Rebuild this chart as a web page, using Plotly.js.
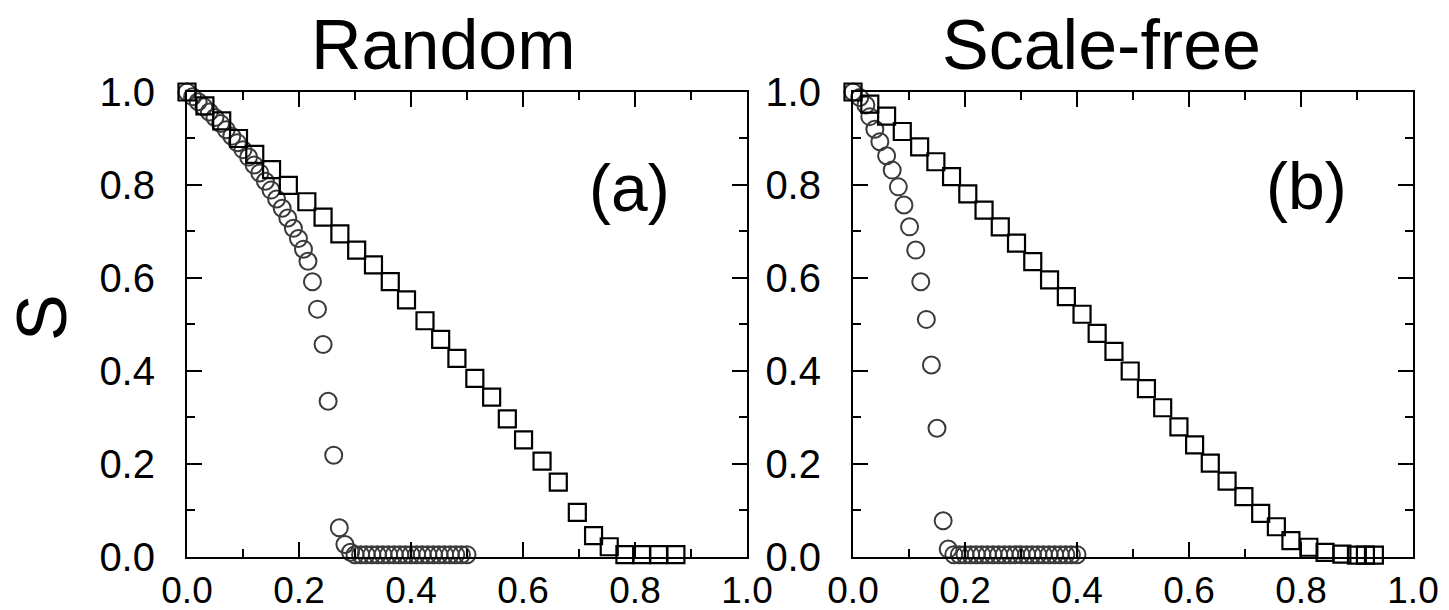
<!DOCTYPE html>
<html>
<head>
<meta charset="utf-8">
<script src="https://cdn.plot.ly/plotly-3.0.1.min.js"></script>
<style>html,body{margin:0;padding:0;background:#fff;}#chart{width:1449px;height:610px;}</style>
</head>
<body>
<div id="chart"></div>
<script>
// Panel (a) Random network
const randomSquareX = [0.000,0.032,0.062,0.092,0.121,0.151,0.181,0.214,0.243,0.273,0.303,0.333,0.363,0.392,0.425,0.453,0.482,0.514,0.544,0.572,0.601,0.634,0.663,0.697,0.726,0.754,0.782,0.812,0.842,0.873];
const randomSquareY = [1.000,0.970,0.938,0.900,0.866,0.833,0.799,0.764,0.731,0.695,0.660,0.628,0.592,0.553,0.508,0.468,0.427,0.384,0.344,0.297,0.252,0.206,0.161,0.096,0.046,0.022,0.005,0.005,0.005,0.005];
const randomCircleX = [0.000,0.010,0.020,0.030,0.040,0.050,0.060,0.070,0.080,0.090,0.100,0.110,0.120,0.130,0.140,0.150,0.160,0.170,0.180,0.190,0.199,0.208,0.216,0.224,0.233,0.243,0.252,0.262,0.272,0.282,0.292,0.300,0.310,0.320,0.330,0.340,0.350,0.360,0.370,0.380,0.390,0.400,0.410,0.420,0.430,0.440,0.450,0.460,0.470,0.480,0.490,0.500];
const randomCircleY = [1.000,0.990,0.979,0.968,0.957,0.945,0.932,0.919,0.905,0.891,0.876,0.860,0.843,0.826,0.808,0.789,0.770,0.750,0.729,0.707,0.685,0.662,0.636,0.592,0.533,0.457,0.335,0.219,0.063,0.027,0.010,0.005,0.005,0.005,0.005,0.005,0.005,0.005,0.005,0.005,0.005,0.005,0.005,0.005,0.005,0.005,0.005,0.005,0.005,0.005,0.005,0.005];

// Panel (b) Scale-free network
const sfSquareX = [0.000,0.030,0.060,0.088,0.119,0.148,0.176,0.205,0.234,0.263,0.292,0.321,0.351,0.381,0.409,0.436,0.466,0.495,0.524,0.553,0.582,0.610,0.638,0.668,0.698,0.728,0.756,0.782,0.814,0.843,0.873,0.899,0.915,0.931];
const sfSquareY = [1.000,0.974,0.948,0.915,0.882,0.850,0.818,0.781,0.746,0.710,0.675,0.635,0.596,0.560,0.522,0.481,0.442,0.400,0.362,0.321,0.280,0.241,0.202,0.163,0.130,0.094,0.065,0.035,0.021,0.010,0.006,0.004,0.004,0.004];
const sfCircleX = [0.000,0.012,0.023,0.030,0.039,0.048,0.060,0.070,0.081,0.091,0.101,0.112,0.121,0.131,0.140,0.150,0.161,0.170,0.180,0.190,0.200,0.210,0.220,0.230,0.240,0.250,0.260,0.270,0.280,0.290,0.300,0.310,0.320,0.330,0.340,0.350,0.360,0.370,0.380,0.390,0.400];
const sfCircleY = [1.000,0.988,0.972,0.947,0.920,0.893,0.863,0.832,0.796,0.757,0.710,0.660,0.592,0.511,0.413,0.277,0.078,0.017,0.005,0.005,0.005,0.005,0.005,0.005,0.005,0.005,0.005,0.005,0.005,0.005,0.005,0.005,0.005,0.005,0.005,0.005,0.005,0.005,0.005,0.005,0.005];

const tickVals = [0.0,0.2,0.4,0.6,0.8,1.0];
const tickText = ["0.0","0.2","0.4","0.6","0.8","1.0"];
const panelTitles = ["Random","Scale-free"];
const panelLabels = ["(a)","(b)"];
const yTitle = "S";

const FONT = "Liberation Sans, Arial, Helvetica, sans-serif";

function sq(x,y,xa,ya){return {x:x,y:y,xaxis:xa,yaxis:ya,type:'scatter',mode:'markers',cliponaxis:false,
  marker:{symbol:'square-open',size:17,color:'#000',line:{width:2.2,color:'#000'}},hoverinfo:'x+y'};}
function ci(x,y,xa,ya){return {x:x,y:y,xaxis:xa,yaxis:ya,type:'scatter',mode:'markers',cliponaxis:false,
  marker:{symbol:'circle-open',size:17,color:'#3a3a3a',line:{width:2,color:'#3a3a3a'}},hoverinfo:'x+y'};}

const data = [
  ci(randomCircleX,randomCircleY,'x','y'),
  sq(randomSquareX,randomSquareY,'x','y'),
  ci(sfCircleX,sfCircleY,'x2','y2'),
  sq(sfSquareX,sfSquareY,'x2','y2')
];

function ax(extra){
  return Object.assign({
    range:[0,1], autorange:false, showgrid:false, zeroline:false,
    showline:true, linewidth:2, linecolor:'#000', mirror:'allticks',
    ticks:'inside', ticklen:15, tickwidth:2, tickcolor:'#000',
    tickmode:'array', tickvals:tickVals, ticktext:tickText,
    tickfont:{family:FONT,size:40,color:'#000'},
    minor:{ticks:'inside', ticklen:8, tickwidth:2, tickcolor:'#000', dtick:0.1, tick0:0, showgrid:false}
  }, extra);
}

const yDom = [0.0869, 0.8492];
const xTickFont = {family:FONT,size:37,color:'#000'};
const layout = {
  width:1449, height:610,
  margin:{l:0,r:0,t:0,b:0},
  paper_bgcolor:'#fff', plot_bgcolor:'rgba(0,0,0,0)',
  showlegend:false,
  xaxis: ax({domain:[0.12905,0.51553], anchor:'y', ticklabelstandoff:0, tickfont:xTickFont}),
  yaxis: ax({domain:yDom, anchor:'x', ticklabelstandoff:22}),
  xaxis2: ax({domain:[0.58868,0.97516], anchor:'y2', ticklabelstandoff:0, tickfont:xTickFont}),
  yaxis2: ax({domain:yDom, anchor:'x2', ticklabelstandoff:22}),
  annotations:[
    {text:panelTitles[0], xref:'paper', yref:'paper', x:443/1449, y:1-45/610, xanchor:'center', yanchor:'middle', showarrow:false, font:{family:FONT,size:70,color:'#000'}},
    {text:panelTitles[1], xref:'paper', yref:'paper', x:1101/1449, y:1-45/610, xanchor:'center', yanchor:'middle', showarrow:false, font:{family:FONT,size:70,color:'#000'}},
    {text:panelLabels[0], xref:'paper', yref:'paper', x:629/1449, y:1-188/610, xanchor:'center', yanchor:'middle', showarrow:false, font:{family:FONT,size:66,color:'#000'}},
    {text:panelLabels[1], xref:'paper', yref:'paper', x:1306/1449, y:1-186/610, xanchor:'center', yanchor:'middle', showarrow:false, font:{family:FONT,size:66,color:'#000'}},
    {text:yTitle, xref:'paper', yref:'paper', x:42/1449, y:1-318/610, xanchor:'center', yanchor:'middle', textangle:-90, showarrow:false, font:{family:FONT,size:70,color:'#000'}}
  ]
};

Plotly.newPlot('chart', data, layout, {staticPlot:true, displayModeBar:false});
</script>
</body>
</html>
